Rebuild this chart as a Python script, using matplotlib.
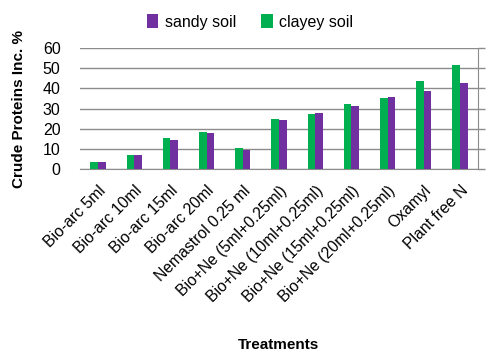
import numpy as np
import matplotlib
matplotlib.use("Agg")
import matplotlib.pyplot as plt

plt.rcParams['font.family'] = ['Liberation Sans', 'DejaVu Sans']

# data
treatments = ['Bio-arc 5ml', 'Bio-arc 10ml', 'Bio-arc 15ml', 'Bio-arc 20ml',
              'Nemastrol 0.25 ml', 'Bio+Ne (5ml+0.25ml)', 'Bio+Ne (10ml+0.25ml)',
              'Bio+Ne (15ml+0.25ml)', 'Bio+Ne (20ml+0.25ml)', 'Oxamyl', 'Plant free N']
clayey = [3.3, 6.9, 15.3, 18.6, 10.4, 24.9, 27.5, 32.3, 35.2, 43.6, 51.6]
sandy = [3.3, 6.8, 14.4, 17.9, 9.5, 24.2, 27.7, 31.2, 35.8, 38.7, 42.8]

green = '#00B050'
purple = '#7030A0'

fig = plt.figure(figsize=(5, 3.54), dpi=100)
ax = fig.add_axes([0.16, 0.5226, 0.796, 0.3414])

x = np.arange(len(treatments))
w = 0.21
b_clay = ax.bar(x - w/2, clayey, w, color=green, label='clayey soil', zorder=3)
b_sand = ax.bar(x + w/2, sandy, w, color=purple, label='sandy soil', zorder=3)

ax.set_xlim(-0.5, len(treatments) - 0.5)
ax.set_ylim(0, 60)
ax.set_yticks(range(0, 61, 10))
ax.yaxis.grid(True, color='#8c8c8c', lw=1, zorder=0)
for s in ['top', 'left']:
    ax.spines[s].set_visible(False)
ax.spines['bottom'].set_color('#8c8c8c')
ax.spines['right'].set_color('#8c8c8c')
# small outward ticks on the right side, labels stay left
ax.tick_params(axis='y', left=False, right=True, labelleft=True, labelright=False,
               length=5, width=1, color='#8c8c8c', direction='out', labelsize=11.5, pad=9)
ax.tick_params(axis='x', length=0, pad=10)
ax.set_xticks(x)
ax.set_xticklabels(treatments, rotation=45, ha='right', rotation_mode='anchor', fontsize=11.3)

ax.set_ylabel('Crude Proteins Inc. %', fontsize=11, fontweight='bold', labelpad=12)
ax.set_xlabel('Treatments', fontsize=11, fontweight='bold', labelpad=24)

fig.legend([b_sand, b_clay], ['sandy soil', 'clayey soil'], loc='upper center',
           bbox_to_anchor=(0.5, 1.0), ncol=2, frameon=False, fontsize=11.5,
           handlelength=0.7, handleheight=0.9, handletextpad=0.4, columnspacing=1.6)

fig.savefig('out.png', dpi=100)
